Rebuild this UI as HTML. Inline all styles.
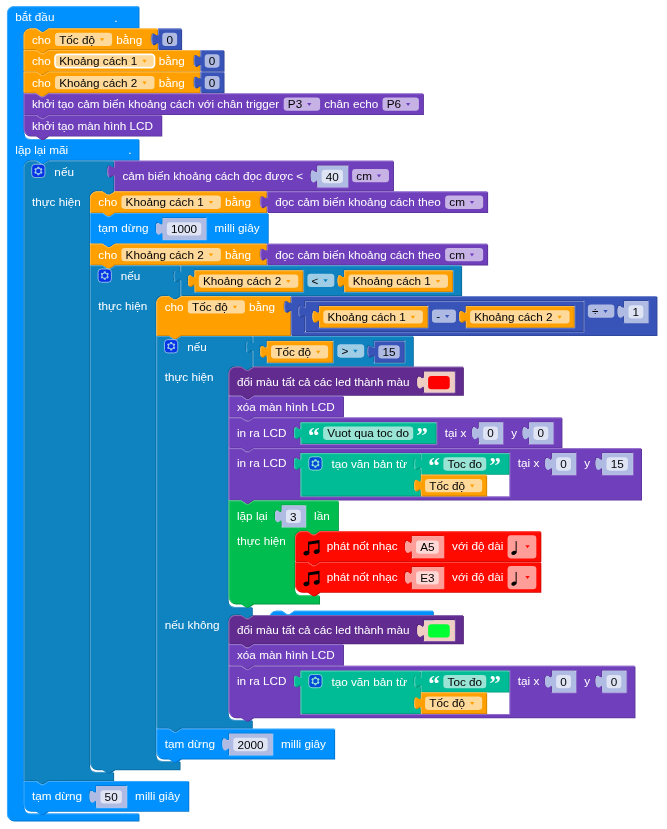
<!DOCTYPE html><html><head><meta charset="utf-8"><title>Blocks</title><style>html,body{margin:0;padding:0;background:#fff}svg{display:block}text{font-family:"Liberation Sans",Arial,sans-serif;font-size:14.12px}.w{fill:#fff}.k{fill:#000}.e{fill:#fff;fill-opacity:.6}</style></head><body><svg width="667" height="829" viewBox="0 0 667 829"><g transform="translate(7,6.3) scale(0.831)"><g transform="translate(315.88,727.44)"><path d="m 0,8 A 8,8 0 0,1 8,0 H 15 l 6,4 3,0 6,-4 H 196.75 v 14 H 0 z" fill="#0074cc" transform="translate(1,1)"/><path d="m 0,8 A 8,8 0 0,1 8,0 H 15 l 6,4 3,0 6,-4 H 196.75 v 14 H 0 z" fill="#0091ff"/><path d="m 0.5,7.5 A 7.5,7.5 0 0,1 8,0.5 H 15 l 6,4 3,0 6,-4 H 196.25" fill="none" stroke="#4cb2ff" stroke-width="1"/></g><g transform="translate(0,0)"><path d="m 0,8 A 8,8 0 0,1 8,0 H 158.4 v 25.8 H 50 l -6,4 -3,0 -6,-4 h -7 a 8,8 0 0,0 -8,8 v 118 a 8,8 0 0,0 8,8 H 158.4 v 25 H 50 l -6,4 -3,0 -6,-4 h -7 a 8,8 0 0,0 -8,8 v 770.5 a 8,8 0 0,0 8,8 H 158.4 v 8.6 H 8 a 8,8 0 0,1 -8,-8 z " fill="#0074cc" transform="translate(1,1)"/><path d="m 0,8 A 8,8 0 0,1 8,0 H 158.4 v 25.8 H 50 l -6,4 -3,0 -6,-4 h -7 a 8,8 0 0,0 -8,8 v 118 a 8,8 0 0,0 8,8 H 158.4 v 25 H 50 l -6,4 -3,0 -6,-4 h -7 a 8,8 0 0,0 -8,8 v 770.5 a 8,8 0 0,0 8,8 H 158.4 v 8.6 H 8 a 8,8 0 0,1 -8,-8 z " fill="#0091ff"/><path d="m 0.5,7.5 A 7.5,7.5 0 0,1 8,0.5 H 157.9 M 157.9,0.5 M 157.9,26.3 M 21.99,157.81 a 8.5,8.5 0 0,0 6.01,2.49 H 157.9 M 157.9,160.3 M 157.9,185.3 M 21.99,969.31 a 8.5,8.5 0 0,0 6.01,2.49 H 157.9 M 2.7,977.2 A 7.5,7.5 0 0,1 0.5,971.9 V 8 " fill="none" stroke="#4cb2ff" stroke-width="1" stroke-linecap="round"/><g transform="translate(10,5)"><text class="w" y="13">bắt đầu</text></g><g transform="translate(10,164.8)"><text class="w" y="13">lặp lại mãi</text></g><g transform="translate(20,26.8)"><path d="m 0,8 A 8,8 0 0,1 8,0 H 15 l 6,4 3,0 6,-4 H 160.87 v 5 c 0,10 -8,-8 -8,7.5 s 8,-2.5 8,7.5 v 5 H 29.5 l -6,4 -3,0 -6,-4 H 0 z " fill="#cc8000" transform="translate(1,1)"/><path d="m 0,8 A 8,8 0 0,1 8,0 H 15 l 6,4 3,0 6,-4 H 160.87 v 5 c 0,10 -8,-8 -8,7.5 s 8,-2.5 8,7.5 v 5 H 29.5 l -6,4 -3,0 -6,-4 H 0 z " fill="#ffa000"/><path d="m 0.5,7.5 A 7.5,7.5 0 0,1 8,0.5 H 15 l 6,4 3,0 6,-4 H 160.37 M 160.37,0.5 M 155.87,19.3 l 3.68,-2.1 M 0.5,24.5 V 8 " fill="none" stroke="#ffbc4c" stroke-width="1" stroke-linecap="round"/><g transform="translate(10,5)"><text class="w" y="13">cho</text></g><g transform="translate(42.77,5)"><rect class="e" x="-5" y="0" width="68.69" height="16" rx="4" ry="4"/><text class="k" y="13">Tốc độ</text><path d="M49.09,6.6 h5.2 l-2.6,3.6 z" fill="#ffa000"/></g><g transform="translate(111.46,5)"><text class="w" y="13">bằng</text></g><g transform="translate(161.87,0)"><path d="m 0,0 H 27.85 v 25 H 0 V 20 c 0,-10 -8,8 -8,-7.5 s 8,2.5 8,-7.5 z " fill="#2d4393" transform="translate(1,1)"/><path d="m 0,0 H 27.85 v 25 H 0 V 20 c 0,-10 -8,8 -8,-7.5 s 8,2.5 8,-7.5 z " fill="#3854b8"/><path d="m 0.5,0.5 H 27.35 M 27.35,0.5 M 0.5,24.5 V 18.5 m -7.36,-0.5 q -1.52,-5.5 0,-11 m 7.36,1 V 0.5 H 1 " fill="none" stroke="#7487cd" stroke-width="1" stroke-linecap="round"/><g transform="translate(10,5)"><rect class="e" x="-5" y="0" width="17.85" height="16" rx="4" ry="4"/><text class="k" y="13">0</text></g></g><g transform="translate(0,26)"><path d="m 0,0 H 15 l 6,4 3,0 6,-4 H 211.91 v 5 c 0,10 -8,-8 -8,7.5 s 8,-2.5 8,7.5 v 5 H 29.5 l -6,4 -3,0 -6,-4 H 0 z " fill="#cc8000" transform="translate(1,1)"/><path d="m 0,0 H 15 l 6,4 3,0 6,-4 H 211.91 v 5 c 0,10 -8,-8 -8,7.5 s 8,-2.5 8,7.5 v 5 H 29.5 l -6,4 -3,0 -6,-4 H 0 z " fill="#ffa000"/><path d="m 0.5,0.5 H 15 l 6,4 3,0 6,-4 H 211.41 M 211.41,0.5 M 206.91,19.3 l 3.68,-2.1 M 0.5,24.5 V 0.5 " fill="none" stroke="#ffbc4c" stroke-width="1" stroke-linecap="round"/><g transform="translate(10,5)"><text class="w" y="13">cho</text></g><g transform="translate(42.77,5)"><rect class="e" x="-5" y="0" width="119.73" height="16" rx="4" ry="4" stroke="#fff" stroke-width="2"/><text class="k" y="13">Khoảng cách 1</text><path d="M100.13,6.6 h5.2 l-2.6,3.6 z" fill="#ffa000"/></g><g transform="translate(162.5,5)"><text class="w" y="13">bằng</text></g><g transform="translate(212.91,0)"><path d="m 0,0 H 27.85 v 25 H 0 V 20 c 0,-10 -8,8 -8,-7.5 s 8,2.5 8,-7.5 z " fill="#2d4393" transform="translate(1,1)"/><path d="m 0,0 H 27.85 v 25 H 0 V 20 c 0,-10 -8,8 -8,-7.5 s 8,2.5 8,-7.5 z " fill="#3854b8"/><path d="m 0.5,0.5 H 27.35 M 27.35,0.5 M 0.5,24.5 V 18.5 m -7.36,-0.5 q -1.52,-5.5 0,-11 m 7.36,1 V 0.5 H 1 " fill="none" stroke="#7487cd" stroke-width="1" stroke-linecap="round"/><g transform="translate(10,5)"><rect class="e" x="-5" y="0" width="17.85" height="16" rx="4" ry="4"/><text class="k" y="13">0</text></g></g><g transform="translate(0,26)"><path d="m 0,0 H 15 l 6,4 3,0 6,-4 H 211.91 v 5 c 0,10 -8,-8 -8,7.5 s 8,-2.5 8,7.5 v 5 H 29.5 l -6,4 -3,0 -6,-4 H 0 z " fill="#cc8000" transform="translate(1,1)"/><path d="m 0,0 H 15 l 6,4 3,0 6,-4 H 211.91 v 5 c 0,10 -8,-8 -8,7.5 s 8,-2.5 8,7.5 v 5 H 29.5 l -6,4 -3,0 -6,-4 H 0 z " fill="#ffa000"/><path d="m 0.5,0.5 H 15 l 6,4 3,0 6,-4 H 211.41 M 211.41,0.5 M 206.91,19.3 l 3.68,-2.1 M 0.5,24.5 V 0.5 " fill="none" stroke="#ffbc4c" stroke-width="1" stroke-linecap="round"/><g transform="translate(10,5)"><text class="w" y="13">cho</text></g><g transform="translate(42.77,5)"><rect class="e" x="-5" y="0" width="119.73" height="16" rx="4" ry="4"/><text class="k" y="13">Khoảng cách 2</text><path d="M100.13,6.6 h5.2 l-2.6,3.6 z" fill="#ffa000"/></g><g transform="translate(162.5,5)"><text class="w" y="13">bằng</text></g><g transform="translate(212.91,0)"><path d="m 0,0 H 27.85 v 25 H 0 V 20 c 0,-10 -8,8 -8,-7.5 s 8,2.5 8,-7.5 z " fill="#2d4393" transform="translate(1,1)"/><path d="m 0,0 H 27.85 v 25 H 0 V 20 c 0,-10 -8,8 -8,-7.5 s 8,2.5 8,-7.5 z " fill="#3854b8"/><path d="m 0.5,0.5 H 27.35 M 27.35,0.5 M 0.5,24.5 V 18.5 m -7.36,-0.5 q -1.52,-5.5 0,-11 m 7.36,1 V 0.5 H 1 " fill="none" stroke="#7487cd" stroke-width="1" stroke-linecap="round"/><g transform="translate(10,5)"><rect class="e" x="-5" y="0" width="17.85" height="16" rx="4" ry="4"/><text class="k" y="13">0</text></g></g><g transform="translate(0,26)"><path d="m 0,0 H 15 l 6,4 3,0 6,-4 H 480.7 v 25 H 29.5 l -6,4 -3,0 -6,-4 H 0 z " fill="#5a3396" transform="translate(1,1)"/><path d="m 0,0 H 15 l 6,4 3,0 6,-4 H 480.7 v 25 H 29.5 l -6,4 -3,0 -6,-4 H 0 z " fill="#7040bc"/><path d="m 0.5,0.5 H 15 l 6,4 3,0 6,-4 H 480.2 M 480.2,0.5 M 0.5,24.5 V 0.5 " fill="none" stroke="#9b79d0" stroke-width="1" stroke-linecap="round"/><g transform="translate(10,5)"><text class="w" y="13">khởi tạo cảm biến khoảng cách với chân trigger</text></g><g transform="translate(317.95,5)"><rect class="e" x="-5" y="0" width="43.79" height="16" rx="4" ry="4"/><text class="k" y="13">P3</text><path d="M23.19,6.6 h5.2 l-2.6,3.6 z" fill="#7040bc"/></g><g transform="translate(361.74,5)"><text class="w" y="13">chân echo</text></g><g transform="translate(436.9,5)"><rect class="e" x="-5" y="0" width="43.79" height="16" rx="4" ry="4"/><text class="k" y="13">P6</text><path d="M23.19,6.6 h5.2 l-2.6,3.6 z" fill="#7040bc"/></g><g transform="translate(0,26)"><path d="m 0,0 H 15 l 6,4 3,0 6,-4 H 165.83 v 25 H 29.5 l -6,4 -3,0 -6,-4 H 8 a 8,8 0 0,1 -8,-8 z " fill="#5a3396" transform="translate(1,1)"/><path d="m 0,0 H 15 l 6,4 3,0 6,-4 H 165.83 v 25 H 29.5 l -6,4 -3,0 -6,-4 H 8 a 8,8 0 0,1 -8,-8 z " fill="#7040bc"/><path d="m 0.5,0.5 H 15 l 6,4 3,0 6,-4 H 165.33 M 165.33,0.5 M 2.7,22.3 A 7.5,7.5 0 0,1 0.5,17 V 0.5 " fill="none" stroke="#9b79d0" stroke-width="1" stroke-linecap="round"/><g transform="translate(10,5)"><text class="w" y="13">khởi tạo màn hình LCD</text></g></g></g></g></g></g><g transform="translate(20,185.8)"><path d="m 0,8 A 8,8 0 0,1 8,0 H 15 l 6,4 3,0 6,-4 H 107.91 v 5 c 0,10 -8,-8 -8,7.5 s 8,-2.5 8,7.5 v 16 H 108.91 l -6,4 -3,0 -6,-4 h -7 a 8,8 0 0,0 -8,8 v 683.5 a 8,8 0 0,0 8,8 H 107.91 v 10 H 29.5 l -6,4 -3,0 -6,-4 H 0 z " fill="#0c689a" transform="translate(1,1)"/><path d="m 0,8 A 8,8 0 0,1 8,0 H 15 l 6,4 3,0 6,-4 H 107.91 v 5 c 0,10 -8,-8 -8,7.5 s 8,-2.5 8,7.5 v 16 H 108.91 l -6,4 -3,0 -6,-4 h -7 a 8,8 0 0,0 -8,8 v 683.5 a 8,8 0 0,0 8,8 H 107.91 v 10 H 29.5 l -6,4 -3,0 -6,-4 H 0 z " fill="#0f82c0"/><path d="m 0.5,7.5 A 7.5,7.5 0 0,1 8,0.5 H 15 l 6,4 3,0 6,-4 H 107.41 M 107.41,0.5 M 102.91,19.3 l 3.68,-2.1 M 107.41,36.5 M 80.9,733.51 a 8.5,8.5 0 0,0 6.01,2.49 H 107.41 M 0.5,745 V 8 " fill="none" stroke="#57a8d3" stroke-width="1" stroke-linecap="round"/><g transform="translate(9.2,3.8)" opacity="0.6"><rect x="0.5" y="0.5" width="16" height="16" rx="4" ry="4" fill="#00f" stroke="#fff" stroke-width="1"/><path fill="#fff" d="m4.203,7.296 0,1.368 -0.92,0.677 -0.11,0.41 0.9,1.559 0.41,0.11 1.043,-0.457 1.187,0.683 0.127,1.134 0.3,0.3 1.8,0 0.3,-0.299 0.127,-1.138 1.185,-0.682 1.046,0.458 0.409,-0.11 0.9,-1.559 -0.11,-0.41 -0.92,-0.677 0,-1.366 0.92,-0.677 0.11,-0.41 -0.9,-1.559 -0.409,-0.109 -1.046,0.458 -1.185,-0.682 -0.127,-1.138 -0.3,-0.299 -1.8,0 -0.3,0.3 -0.126,1.135 -1.187,0.682 -1.043,-0.457 -0.41,0.11 -0.899,1.559 0.108,0.409z" transform="translate(0.5,0.5)"/><circle cx="8.5" cy="8.5" r="2.7" fill="#00f"/></g><g transform="translate(37,5)"><text class="w" y="13">nếu</text></g><g transform="translate(10,41)"><text class="w" y="13">thực hiện</text></g><g transform="translate(108.91,0)"><path d="m 0,0 H 20 H 335.75 v 36 H 0 V 20 c 0,-10 -8,8 -8,-7.5 s 8,2.5 8,-7.5 z M 281.4,5 h -37.71 v 5 c 0,10 -8,-8 -8,7.5 s 8,-2.5 8,7.5 v 7 h 37.71 z" fill="#5a3396" transform="translate(1,1)"/><path d="m 0,0 H 20 H 335.75 v 36 H 0 V 20 c 0,-10 -8,8 -8,-7.5 s 8,2.5 8,-7.5 z M 281.4,5 h -37.71 v 5 c 0,10 -8,-8 -8,7.5 s 8,-2.5 8,7.5 v 7 h 37.71 z" fill="#7040bc"/><path d="m 0.5,0.5 H 19.5 M 19.5,0.5 H 335.25 M 0.5,35.5 V 18.5 m -7.36,-0.5 q -1.52,-5.5 0,-11 m 7.36,1 V 0.5 H 1 M 281.9,5.5 v 27 h -37.71 M 238.6,24.3 l 3.68,-2.1" fill="none" stroke="#9b79d0" stroke-width="1" stroke-linecap="round"/><g transform="translate(10,10)"><text class="w" y="13">cảm biến khoảng cách đọc được &lt;</text></g><g transform="translate(291.4,10)"><rect class="e" x="-5" y="0" width="44.35" height="16" rx="4" ry="4"/><text class="k" y="13">cm</text><path d="M24.75,6.6 h5.2 l-2.6,3.6 z" fill="#7040bc"/></g><g transform="translate(244.7,6)"><path d="m 0,0 H 35.71 v 25 H 0 V 20 c 0,-10 -8,8 -8,-7.5 s 8,2.5 8,-7.5 z " fill="#afbbe3" transform="translate(1,1)"/><path d="m 0,0 H 35.71 v 25 H 0 V 20 c 0,-10 -8,8 -8,-7.5 s 8,2.5 8,-7.5 z " fill="#afbbe3"/><g transform="translate(10,5)"><rect class="e" x="-5" y="0" width="25.71" height="16" rx="4" ry="4"/><text class="k" y="13">40</text></g></g></g><g transform="translate(79.91,37)"><path d="m 0,8 A 8,8 0 0,1 8,0 H 15 l 6,4 3,0 6,-4 H 211.91 v 5 c 0,10 -8,-8 -8,7.5 s 8,-2.5 8,7.5 v 5 H 29.5 l -6,4 -3,0 -6,-4 H 0 z " fill="#cc8000" transform="translate(1,1)"/><path d="m 0,8 A 8,8 0 0,1 8,0 H 15 l 6,4 3,0 6,-4 H 211.91 v 5 c 0,10 -8,-8 -8,7.5 s 8,-2.5 8,7.5 v 5 H 29.5 l -6,4 -3,0 -6,-4 H 0 z " fill="#ffa000"/><path d="m 0.5,7.5 A 7.5,7.5 0 0,1 8,0.5 H 15 l 6,4 3,0 6,-4 H 211.41 M 211.41,0.5 M 206.91,19.3 l 3.68,-2.1 M 0.5,24.5 V 8 " fill="none" stroke="#ffbc4c" stroke-width="1" stroke-linecap="round"/><g transform="translate(10,5)"><text class="w" y="13">cho</text></g><g transform="translate(42.77,5)"><rect class="e" x="-5" y="0" width="119.73" height="16" rx="4" ry="4"/><text class="k" y="13">Khoảng cách 1</text><path d="M100.13,6.6 h5.2 l-2.6,3.6 z" fill="#ffa000"/></g><g transform="translate(162.5,5)"><text class="w" y="13">bằng</text></g><g transform="translate(212.91,0)"><path d="m 0,0 H 265.13 v 25 H 0 V 20 c 0,-10 -8,8 -8,-7.5 s 8,2.5 8,-7.5 z " fill="#5a3396" transform="translate(1,1)"/><path d="m 0,0 H 265.13 v 25 H 0 V 20 c 0,-10 -8,8 -8,-7.5 s 8,2.5 8,-7.5 z " fill="#7040bc"/><path d="m 0.5,0.5 H 264.63 M 264.63,0.5 M 0.5,24.5 V 18.5 m -7.36,-0.5 q -1.52,-5.5 0,-11 m 7.36,1 V 0.5 H 1 " fill="none" stroke="#9b79d0" stroke-width="1" stroke-linecap="round"/><g transform="translate(10,5)"><text class="w" y="13">đọc cảm biến khoảng cách theo</text></g><g transform="translate(219.39,5)"><rect class="e" x="-5" y="0" width="45.75" height="16" rx="4" ry="4"/><text class="k" y="13">cm</text><path d="M24.75,6.6 h5.2 l-2.6,3.6 z" fill="#7040bc"/></g></g><g transform="translate(0,26)"><path d="m 0,0 H 15 l 6,4 3,0 6,-4 H 40 H 214.02 v 36 H 29.5 l -6,4 -3,0 -6,-4 H 0 z M 139.89,5 h -53.41 v 5 c 0,10 -8,-8 -8,7.5 s 8,-2.5 8,7.5 v 7 h 53.41 z" fill="#0074cc" transform="translate(1,1)"/><path d="m 0,0 H 15 l 6,4 3,0 6,-4 H 40 H 214.02 v 36 H 29.5 l -6,4 -3,0 -6,-4 H 0 z M 139.89,5 h -53.41 v 5 c 0,10 -8,-8 -8,7.5 s 8,-2.5 8,7.5 v 7 h 53.41 z" fill="#0091ff"/><path d="m 0.5,0.5 H 15 l 6,4 3,0 6,-4 H 39.5 M 39.5,0.5 H 213.52 M 0.5,35.5 V 0.5 M 140.39,5.5 v 27 h -53.41 M 81.37,24.3 l 3.68,-2.1" fill="none" stroke="#4cb2ff" stroke-width="1" stroke-linecap="round"/><g transform="translate(10,10)"><text class="w" y="13">tạm dừng</text></g><g transform="translate(149.89,10)"><text class="w" y="13">milli giây</text></g><g transform="translate(87.47,6)"><path d="m 0,0 H 51.41 v 25 H 0 V 20 c 0,-10 -8,8 -8,-7.5 s 8,2.5 8,-7.5 z " fill="#afbbe3" transform="translate(1,1)"/><path d="m 0,0 H 51.41 v 25 H 0 V 20 c 0,-10 -8,8 -8,-7.5 s 8,2.5 8,-7.5 z " fill="#afbbe3"/><g transform="translate(10,5)"><rect class="e" x="-5" y="0" width="41.41" height="16" rx="4" ry="4"/><text class="k" y="13">1000</text></g></g><g transform="translate(0,37)"><path d="m 0,0 H 15 l 6,4 3,0 6,-4 H 211.91 v 5 c 0,10 -8,-8 -8,7.5 s 8,-2.5 8,7.5 v 5 H 29.5 l -6,4 -3,0 -6,-4 H 0 z " fill="#cc8000" transform="translate(1,1)"/><path d="m 0,0 H 15 l 6,4 3,0 6,-4 H 211.91 v 5 c 0,10 -8,-8 -8,7.5 s 8,-2.5 8,7.5 v 5 H 29.5 l -6,4 -3,0 -6,-4 H 0 z " fill="#ffa000"/><path d="m 0.5,0.5 H 15 l 6,4 3,0 6,-4 H 211.41 M 211.41,0.5 M 206.91,19.3 l 3.68,-2.1 M 0.5,24.5 V 0.5 " fill="none" stroke="#ffbc4c" stroke-width="1" stroke-linecap="round"/><g transform="translate(10,5)"><text class="w" y="13">cho</text></g><g transform="translate(42.77,5)"><rect class="e" x="-5" y="0" width="119.73" height="16" rx="4" ry="4"/><text class="k" y="13">Khoảng cách 2</text><path d="M100.13,6.6 h5.2 l-2.6,3.6 z" fill="#ffa000"/></g><g transform="translate(162.5,5)"><text class="w" y="13">bằng</text></g><g transform="translate(212.91,0)"><path d="m 0,0 H 265.13 v 25 H 0 V 20 c 0,-10 -8,8 -8,-7.5 s 8,2.5 8,-7.5 z " fill="#5a3396" transform="translate(1,1)"/><path d="m 0,0 H 265.13 v 25 H 0 V 20 c 0,-10 -8,8 -8,-7.5 s 8,2.5 8,-7.5 z " fill="#7040bc"/><path d="m 0.5,0.5 H 264.63 M 264.63,0.5 M 0.5,24.5 V 18.5 m -7.36,-0.5 q -1.52,-5.5 0,-11 m 7.36,1 V 0.5 H 1 " fill="none" stroke="#9b79d0" stroke-width="1" stroke-linecap="round"/><g transform="translate(10,5)"><text class="w" y="13">đọc cảm biến khoảng cách theo</text></g><g transform="translate(219.39,5)"><rect class="e" x="-5" y="0" width="45.75" height="16" rx="4" ry="4"/><text class="k" y="13">cm</text><path d="M24.75,6.6 h5.2 l-2.6,3.6 z" fill="#7040bc"/></g></g><g transform="translate(0,26)"><path d="m 0,0 H 15 l 6,4 3,0 6,-4 H 107.91 v 5 c 0,10 -8,-8 -8,7.5 s 8,-2.5 8,7.5 v 16 H 108.91 l -6,4 -3,0 -6,-4 h -7 a 8,8 0 0,0 -8,8 v 544.5 a 8,8 0 0,0 8,8 H 107.91 v 10 H 29.5 l -6,4 -3,0 -6,-4 H 8 a 8,8 0 0,1 -8,-8 z " fill="#0c689a" transform="translate(1,1)"/><path d="m 0,0 H 15 l 6,4 3,0 6,-4 H 107.91 v 5 c 0,10 -8,-8 -8,7.5 s 8,-2.5 8,7.5 v 16 H 108.91 l -6,4 -3,0 -6,-4 h -7 a 8,8 0 0,0 -8,8 v 544.5 a 8,8 0 0,0 8,8 H 107.91 v 10 H 29.5 l -6,4 -3,0 -6,-4 H 8 a 8,8 0 0,1 -8,-8 z " fill="#0f82c0"/><path d="m 0.5,0.5 H 15 l 6,4 3,0 6,-4 H 107.41 M 107.41,0.5 M 102.91,19.3 l 3.68,-2.1 M 107.41,36.5 M 80.9,594.51 a 8.5,8.5 0 0,0 6.01,2.49 H 107.41 M 2.7,603.8 A 7.5,7.5 0 0,1 0.5,598.5 V 0.5 " fill="none" stroke="#57a8d3" stroke-width="1" stroke-linecap="round"/><g transform="translate(9.2,3.8)" opacity="0.6"><rect x="0.5" y="0.5" width="16" height="16" rx="4" ry="4" fill="#00f" stroke="#fff" stroke-width="1"/><path fill="#fff" d="m4.203,7.296 0,1.368 -0.92,0.677 -0.11,0.41 0.9,1.559 0.41,0.11 1.043,-0.457 1.187,0.683 0.127,1.134 0.3,0.3 1.8,0 0.3,-0.299 0.127,-1.138 1.185,-0.682 1.046,0.458 0.409,-0.11 0.9,-1.559 -0.11,-0.41 -0.92,-0.677 0,-1.366 0.92,-0.677 0.11,-0.41 -0.9,-1.559 -0.409,-0.109 -1.046,0.458 -1.185,-0.682 -0.127,-1.138 -0.3,-0.299 -1.8,0 -0.3,0.3 -0.126,1.135 -1.187,0.682 -1.043,-0.457 -0.41,0.11 -0.899,1.559 0.108,0.409z" transform="translate(0.5,0.5)"/><circle cx="8.5" cy="8.5" r="2.7" fill="#00f"/></g><g transform="translate(37,5)"><text class="w" y="13">nếu</text></g><g transform="translate(10,41)"><text class="w" y="13">thực hiện</text></g><g transform="translate(108.91,0)"><path d="m 0,0 H 20 H 337.83 v 36 H 0 V 20 c 0,-10 -8,8 -8,-7.5 s 8,2.5 8,-7.5 z M 147.73,5 h -131.73 v 5 c 0,10 -8,-8 -8,7.5 s 8,-2.5 8,7.5 v 7 h 131.73 z M 327.83,5 h -131.73 v 5 c 0,10 -8,-8 -8,7.5 s 8,-2.5 8,7.5 v 7 h 131.73 z" fill="#0c689a" transform="translate(1,1)"/><path d="m 0,0 H 20 H 337.83 v 36 H 0 V 20 c 0,-10 -8,8 -8,-7.5 s 8,2.5 8,-7.5 z M 147.73,5 h -131.73 v 5 c 0,10 -8,-8 -8,7.5 s 8,-2.5 8,7.5 v 7 h 131.73 z M 327.83,5 h -131.73 v 5 c 0,10 -8,-8 -8,7.5 s 8,-2.5 8,7.5 v 7 h 131.73 z" fill="#0f82c0"/><path d="m 0.5,0.5 H 19.5 M 19.5,0.5 H 337.33 M 0.5,35.5 V 18.5 m -7.36,-0.5 q -1.52,-5.5 0,-11 m 7.36,1 V 0.5 H 1 M 148.23,5.5 v 27 h -131.73 M 10.9,24.3 l 3.68,-2.1 M 328.33,5.5 v 27 h -131.73 M 191,24.3 l 3.68,-2.1" fill="none" stroke="#57a8d3" stroke-width="1" stroke-linecap="round"/><g transform="translate(157.73,10)"><rect class="e" x="-5" y="0" width="32.37" height="16" rx="4" ry="4"/><text class="k" y="13">&lt;</text><path d="M14.17,6.6 h5.2 l-2.6,3.6 z" fill="#0f82c0"/></g><g transform="translate(17,6)"><path d="m 0,0 H 129.73 v 25 H 0 V 20 c 0,-10 -8,8 -8,-7.5 s 8,2.5 8,-7.5 z " fill="#cc8000" transform="translate(1,1)"/><path d="m 0,0 H 129.73 v 25 H 0 V 20 c 0,-10 -8,8 -8,-7.5 s 8,2.5 8,-7.5 z " fill="#ffa000"/><path d="m 0.5,0.5 H 129.23 M 129.23,0.5 M 0.5,24.5 V 18.5 m -7.36,-0.5 q -1.52,-5.5 0,-11 m 7.36,1 V 0.5 H 1 " fill="none" stroke="#ffbc4c" stroke-width="1" stroke-linecap="round"/><g transform="translate(10,5)"><rect class="e" x="-5" y="0" width="119.73" height="16" rx="4" ry="4"/><text class="k" y="13">Khoảng cách 2</text><path d="M100.13,6.6 h5.2 l-2.6,3.6 z" fill="#ffa000"/></g></g><g transform="translate(197.1,6)"><path d="m 0,0 H 129.73 v 25 H 0 V 20 c 0,-10 -8,8 -8,-7.5 s 8,2.5 8,-7.5 z " fill="#cc8000" transform="translate(1,1)"/><path d="m 0,0 H 129.73 v 25 H 0 V 20 c 0,-10 -8,8 -8,-7.5 s 8,2.5 8,-7.5 z " fill="#ffa000"/><path d="m 0.5,0.5 H 129.23 M 129.23,0.5 M 0.5,24.5 V 18.5 m -7.36,-0.5 q -1.52,-5.5 0,-11 m 7.36,1 V 0.5 H 1 " fill="none" stroke="#ffbc4c" stroke-width="1" stroke-linecap="round"/><g transform="translate(10,5)"><rect class="e" x="-5" y="0" width="119.73" height="16" rx="4" ry="4"/><text class="k" y="13">Khoảng cách 1</text><path d="M100.13,6.6 h5.2 l-2.6,3.6 z" fill="#ffa000"/></g></g></g><g transform="translate(79.91,37)"><path d="m 0,8 A 8,8 0 0,1 8,0 H 15 l 6,4 3,0 6,-4 H 160.87 v 5 c 0,10 -8,-8 -8,7.5 s 8,-2.5 8,7.5 v 27 H 29.5 l -6,4 -3,0 -6,-4 H 0 z " fill="#cc8000" transform="translate(1,1)"/><path d="m 0,8 A 8,8 0 0,1 8,0 H 15 l 6,4 3,0 6,-4 H 160.87 v 5 c 0,10 -8,-8 -8,7.5 s 8,-2.5 8,7.5 v 27 H 29.5 l -6,4 -3,0 -6,-4 H 0 z " fill="#ffa000"/><path d="m 0.5,7.5 A 7.5,7.5 0 0,1 8,0.5 H 15 l 6,4 3,0 6,-4 H 160.37 M 160.37,0.5 M 155.87,19.3 l 3.68,-2.1 M 0.5,46.5 V 8 " fill="none" stroke="#ffbc4c" stroke-width="1" stroke-linecap="round"/><g transform="translate(10,5)"><text class="w" y="13">cho</text></g><g transform="translate(42.77,5)"><rect class="e" x="-5" y="0" width="68.69" height="16" rx="4" ry="4"/><text class="k" y="13">Tốc độ</text><path d="M49.09,6.6 h5.2 l-2.6,3.6 z" fill="#ffa000"/></g><g transform="translate(111.46,5)"><text class="w" y="13">bằng</text></g><g transform="translate(161.87,0)"><path d="m 0,0 H 20 H 440.01 v 47 H 0 V 20 c 0,-10 -8,8 -8,-7.5 s 8,2.5 8,-7.5 z M 352.29,5 h -336.29 v 5 c 0,10 -8,-8 -8,7.5 s 8,-2.5 8,7.5 v 18 h 336.29 z M 430.01,5 h -29.85 v 5 c 0,10 -8,-8 -8,7.5 s 8,-2.5 8,7.5 v 7 h 29.85 z" fill="#2d4393" transform="translate(1,1)"/><path d="m 0,0 H 20 H 440.01 v 47 H 0 V 20 c 0,-10 -8,8 -8,-7.5 s 8,2.5 8,-7.5 z M 352.29,5 h -336.29 v 5 c 0,10 -8,-8 -8,7.5 s 8,-2.5 8,7.5 v 18 h 336.29 z M 430.01,5 h -29.85 v 5 c 0,10 -8,-8 -8,7.5 s 8,-2.5 8,7.5 v 7 h 29.85 z" fill="#3854b8"/><path d="m 0.5,0.5 H 19.5 M 19.5,0.5 H 439.51 M 0.5,46.5 V 18.5 m -7.36,-0.5 q -1.52,-5.5 0,-11 m 7.36,1 V 0.5 H 1 M 352.79,5.5 v 38 h -336.29 M 10.9,24.3 l 3.68,-2.1 M 430.51,5.5 v 27 h -29.85 M 395.06,24.3 l 3.68,-2.1" fill="none" stroke="#7487cd" stroke-width="1" stroke-linecap="round"/><g transform="translate(362.29,10)"><rect class="e" x="-5" y="0" width="31.87" height="16" rx="4" ry="4"/><text class="k" y="13">÷</text><path d="M13.67,6.6 h5.2 l-2.6,3.6 z" fill="#3854b8"/></g><g transform="translate(17,6)"><path d="m 0,0 H 20 H 334.29 v 36 H 0 V 20 c 0,-10 -8,8 -8,-7.5 s 8,2.5 8,-7.5 z M 147.73,5 h -131.73 v 5 c 0,10 -8,-8 -8,7.5 s 8,-2.5 8,7.5 v 7 h 131.73 z M 324.29,5 h -131.73 v 5 c 0,10 -8,-8 -8,7.5 s 8,-2.5 8,7.5 v 7 h 131.73 z" fill="#2d4393" transform="translate(1,1)"/><path d="m 0,0 H 20 H 334.29 v 36 H 0 V 20 c 0,-10 -8,8 -8,-7.5 s 8,2.5 8,-7.5 z M 147.73,5 h -131.73 v 5 c 0,10 -8,-8 -8,7.5 s 8,-2.5 8,7.5 v 7 h 131.73 z M 324.29,5 h -131.73 v 5 c 0,10 -8,-8 -8,7.5 s 8,-2.5 8,7.5 v 7 h 131.73 z" fill="#3854b8"/><path d="m 0.5,0.5 H 19.5 M 19.5,0.5 H 333.79 M 0.5,35.5 V 18.5 m -7.36,-0.5 q -1.52,-5.5 0,-11 m 7.36,1 V 0.5 H 1 M 148.23,5.5 v 27 h -131.73 M 10.9,24.3 l 3.68,-2.1 M 324.79,5.5 v 27 h -131.73 M 187.46,24.3 l 3.68,-2.1" fill="none" stroke="#7487cd" stroke-width="1" stroke-linecap="round"/><g transform="translate(157.73,10)"><rect class="e" x="-5" y="0" width="28.83" height="16" rx="4" ry="4"/><text class="k" y="13">-</text><path d="M10.63,6.6 h5.2 l-2.6,3.6 z" fill="#3854b8"/></g><g transform="translate(17,6)"><path d="m 0,0 H 129.73 v 25 H 0 V 20 c 0,-10 -8,8 -8,-7.5 s 8,2.5 8,-7.5 z " fill="#cc8000" transform="translate(1,1)"/><path d="m 0,0 H 129.73 v 25 H 0 V 20 c 0,-10 -8,8 -8,-7.5 s 8,2.5 8,-7.5 z " fill="#ffa000"/><path d="m 0.5,0.5 H 129.23 M 129.23,0.5 M 0.5,24.5 V 18.5 m -7.36,-0.5 q -1.52,-5.5 0,-11 m 7.36,1 V 0.5 H 1 " fill="none" stroke="#ffbc4c" stroke-width="1" stroke-linecap="round"/><g transform="translate(10,5)"><rect class="e" x="-5" y="0" width="119.73" height="16" rx="4" ry="4"/><text class="k" y="13">Khoảng cách 1</text><path d="M100.13,6.6 h5.2 l-2.6,3.6 z" fill="#ffa000"/></g></g><g transform="translate(193.56,6)"><path d="m 0,0 H 129.73 v 25 H 0 V 20 c 0,-10 -8,8 -8,-7.5 s 8,2.5 8,-7.5 z " fill="#cc8000" transform="translate(1,1)"/><path d="m 0,0 H 129.73 v 25 H 0 V 20 c 0,-10 -8,8 -8,-7.5 s 8,2.5 8,-7.5 z " fill="#ffa000"/><path d="m 0.5,0.5 H 129.23 M 129.23,0.5 M 0.5,24.5 V 18.5 m -7.36,-0.5 q -1.52,-5.5 0,-11 m 7.36,1 V 0.5 H 1 " fill="none" stroke="#ffbc4c" stroke-width="1" stroke-linecap="round"/><g transform="translate(10,5)"><rect class="e" x="-5" y="0" width="119.73" height="16" rx="4" ry="4"/><text class="k" y="13">Khoảng cách 2</text><path d="M100.13,6.6 h5.2 l-2.6,3.6 z" fill="#ffa000"/></g></g></g><g transform="translate(401.16,6)"><path d="m 0,0 H 27.85 v 25 H 0 V 20 c 0,-10 -8,8 -8,-7.5 s 8,2.5 8,-7.5 z " fill="#afbbe3" transform="translate(1,1)"/><path d="m 0,0 H 27.85 v 25 H 0 V 20 c 0,-10 -8,8 -8,-7.5 s 8,2.5 8,-7.5 z " fill="#afbbe3"/><g transform="translate(10,5)"><rect class="e" x="-5" y="0" width="17.85" height="16" rx="4" ry="4"/><text class="k" y="13">1</text></g></g></g><g transform="translate(0,48)"><path d="m 0,0 H 15 l 6,4 3,0 6,-4 H 114.95 v 5 c 0,10 -8,-8 -8,7.5 s 8,-2.5 8,7.5 v 16 H 115.95 l -6,4 -3,0 -6,-4 h -7 a 8,8 0 0,0 -8,8 v 274 a 8,8 0 0,0 8,8 H 114.95 v 8.9 H 115.95 l -6,4 -3,0 -6,-4 h -7 a 8,8 0 0,0 -8,8 v 111 a 8,8 0 0,0 8,8 H 114.95 v 9.6 H 29.5 l -6,4 -3,0 -6,-4 H 0 z " fill="#0c689a" transform="translate(1,1)"/><path d="m 0,0 H 15 l 6,4 3,0 6,-4 H 114.95 v 5 c 0,10 -8,-8 -8,7.5 s 8,-2.5 8,7.5 v 16 H 115.95 l -6,4 -3,0 -6,-4 h -7 a 8,8 0 0,0 -8,8 v 274 a 8,8 0 0,0 8,8 H 114.95 v 8.9 H 115.95 l -6,4 -3,0 -6,-4 h -7 a 8,8 0 0,0 -8,8 v 111 a 8,8 0 0,0 8,8 H 114.95 v 9.6 H 29.5 l -6,4 -3,0 -6,-4 H 0 z " fill="#0f82c0"/><path d="m 0.5,0.5 H 15 l 6,4 3,0 6,-4 H 114.45 M 114.45,0.5 M 109.95,19.3 l 3.68,-2.1 M 114.45,36.5 M 87.94,324.01 a 8.5,8.5 0 0,0 6.01,2.49 H 114.45 M 114.45,335.4 M 87.94,459.91 a 8.5,8.5 0 0,0 6.01,2.49 H 114.45 M 0.5,471 V 0.5 " fill="none" stroke="#57a8d3" stroke-width="1" stroke-linecap="round"/><g transform="translate(9.2,3.8)" opacity="0.6"><rect x="0.5" y="0.5" width="16" height="16" rx="4" ry="4" fill="#00f" stroke="#fff" stroke-width="1"/><path fill="#fff" d="m4.203,7.296 0,1.368 -0.92,0.677 -0.11,0.41 0.9,1.559 0.41,0.11 1.043,-0.457 1.187,0.683 0.127,1.134 0.3,0.3 1.8,0 0.3,-0.299 0.127,-1.138 1.185,-0.682 1.046,0.458 0.409,-0.11 0.9,-1.559 -0.11,-0.41 -0.92,-0.677 0,-1.366 0.92,-0.677 0.11,-0.41 -0.9,-1.559 -0.409,-0.109 -1.046,0.458 -1.185,-0.682 -0.127,-1.138 -0.3,-0.299 -1.8,0 -0.3,0.3 -0.126,1.135 -1.187,0.682 -1.043,-0.457 -0.41,0.11 -0.899,1.559 0.108,0.409z" transform="translate(0.5,0.5)"/><circle cx="8.5" cy="8.5" r="2.7" fill="#00f"/></g><g transform="translate(37,5)"><text class="w" y="13">nếu</text></g><g transform="translate(10,41)"><text class="w" y="13">thực hiện</text></g><g transform="translate(10,339.9)"><text class="w" y="13">nếu không</text></g><g transform="translate(115.95,0)"><path d="m 0,0 H 20 H 192.77 v 36 H 0 V 20 c 0,-10 -8,8 -8,-7.5 s 8,2.5 8,-7.5 z M 96.69,5 h -80.69 v 5 c 0,10 -8,-8 -8,7.5 s 8,-2.5 8,7.5 v 7 h 80.69 z M 182.77,5 h -37.71 v 5 c 0,10 -8,-8 -8,7.5 s 8,-2.5 8,7.5 v 7 h 37.71 z" fill="#0c689a" transform="translate(1,1)"/><path d="m 0,0 H 20 H 192.77 v 36 H 0 V 20 c 0,-10 -8,8 -8,-7.5 s 8,2.5 8,-7.5 z M 96.69,5 h -80.69 v 5 c 0,10 -8,-8 -8,7.5 s 8,-2.5 8,7.5 v 7 h 80.69 z M 182.77,5 h -37.71 v 5 c 0,10 -8,-8 -8,7.5 s 8,-2.5 8,7.5 v 7 h 37.71 z" fill="#0f82c0"/><path d="m 0.5,0.5 H 19.5 M 19.5,0.5 H 192.27 M 0.5,35.5 V 18.5 m -7.36,-0.5 q -1.52,-5.5 0,-11 m 7.36,1 V 0.5 H 1 M 97.19,5.5 v 27 h -80.69 M 10.9,24.3 l 3.68,-2.1 M 183.27,5.5 v 27 h -37.71 M 139.96,24.3 l 3.68,-2.1" fill="none" stroke="#57a8d3" stroke-width="1" stroke-linecap="round"/><g transform="translate(106.69,10)"><rect class="e" x="-5" y="0" width="32.37" height="16" rx="4" ry="4"/><text class="k" y="13">&gt;</text><path d="M14.17,6.6 h5.2 l-2.6,3.6 z" fill="#0f82c0"/></g><g transform="translate(17,6)"><path d="m 0,0 H 78.69 v 25 H 0 V 20 c 0,-10 -8,8 -8,-7.5 s 8,2.5 8,-7.5 z " fill="#cc8000" transform="translate(1,1)"/><path d="m 0,0 H 78.69 v 25 H 0 V 20 c 0,-10 -8,8 -8,-7.5 s 8,2.5 8,-7.5 z " fill="#ffa000"/><path d="m 0.5,0.5 H 78.19 M 78.19,0.5 M 0.5,24.5 V 18.5 m -7.36,-0.5 q -1.52,-5.5 0,-11 m 7.36,1 V 0.5 H 1 " fill="none" stroke="#ffbc4c" stroke-width="1" stroke-linecap="round"/><g transform="translate(10,5)"><rect class="e" x="-5" y="0" width="68.69" height="16" rx="4" ry="4"/><text class="k" y="13">Tốc độ</text><path d="M49.09,6.6 h5.2 l-2.6,3.6 z" fill="#ffa000"/></g></g><g transform="translate(146.06,6)"><path d="m 0,0 H 35.71 v 25 H 0 V 20 c 0,-10 -8,8 -8,-7.5 s 8,2.5 8,-7.5 z " fill="#2d4393" transform="translate(1,1)"/><path d="m 0,0 H 35.71 v 25 H 0 V 20 c 0,-10 -8,8 -8,-7.5 s 8,2.5 8,-7.5 z " fill="#3854b8"/><path d="m 0.5,0.5 H 35.21 M 35.21,0.5 M 0.5,24.5 V 18.5 m -7.36,-0.5 q -1.52,-5.5 0,-11 m 7.36,1 V 0.5 H 1 " fill="none" stroke="#7487cd" stroke-width="1" stroke-linecap="round"/><g transform="translate(10,5)"><rect class="e" x="-5" y="0" width="25.71" height="16" rx="4" ry="4"/><text class="k" y="13">15</text></g></g></g><g transform="translate(86.95,37)"><path d="m 0,8 A 8,8 0 0,1 8,0 H 15 l 6,4 3,0 6,-4 H 40 H 282 v 34 H 29.5 l -6,4 -3,0 -6,-4 H 0 z M 272,5 h -38 v 5 c 0,10 -8,-8 -8,7.5 s 8,-2.5 8,7.5 v 6 h 38 z" fill="#4e2273" transform="translate(1,1)"/><path d="m 0,8 A 8,8 0 0,1 8,0 H 15 l 6,4 3,0 6,-4 H 40 H 282 v 34 H 29.5 l -6,4 -3,0 -6,-4 H 0 z M 272,5 h -38 v 5 c 0,10 -8,-8 -8,7.5 s 8,-2.5 8,7.5 v 6 h 38 z" fill="#612b90"/><path d="m 0.5,7.5 A 7.5,7.5 0 0,1 8,0.5 H 15 l 6,4 3,0 6,-4 H 39.5 M 39.5,0.5 H 281.5 M 0.5,33.5 V 8 M 272.5,5.5 v 26 h -38 M 228.9,24.3 l 3.68,-2.1" fill="none" stroke="#906bb1" stroke-width="1" stroke-linecap="round"/><g transform="translate(10,10)"><text class="w" y="13">đổi màu tất cả các led thành màu</text></g><g transform="translate(235,6)"><path d="m 0,0 H 36 v 24 H 0 V 20 c 0,-10 -8,8 -8,-7.5 s 8,2.5 8,-7.5 z " fill="#f0cdc2" transform="translate(1,1)"/><path d="m 0,0 H 36 v 24 H 0 V 20 c 0,-10 -8,8 -8,-7.5 s 8,2.5 8,-7.5 z " fill="#f0cdc2"/><g transform="translate(10,5)"><rect x="-5" y="0" width="26" height="16" rx="4" ry="4" fill="#ff0000"/></g></g><g transform="translate(0,35)"><path d="m 0,0 H 15 l 6,4 3,0 6,-4 H 137.73 v 25 H 29.5 l -6,4 -3,0 -6,-4 H 0 z " fill="#5a3396" transform="translate(1,1)"/><path d="m 0,0 H 15 l 6,4 3,0 6,-4 H 137.73 v 25 H 29.5 l -6,4 -3,0 -6,-4 H 0 z " fill="#7040bc"/><path d="m 0.5,0.5 H 15 l 6,4 3,0 6,-4 H 137.23 M 137.23,0.5 M 0.5,24.5 V 0.5 " fill="none" stroke="#9b79d0" stroke-width="1" stroke-linecap="round"/><g transform="translate(10,5)"><text class="w" y="13">xóa màn hình LCD</text></g><g transform="translate(0,26)"><path d="m 0,0 H 15 l 6,4 3,0 6,-4 H 40 H 400.59 v 36 H 29.5 l -6,4 -3,0 -6,-4 H 0 z M 250.03,5 h -164.39 v 5 c 0,10 -8,-8 -8,7.5 s 8,-2.5 8,7.5 v 7 h 164.39 z M 329.98,5 h -29.85 v 5 c 0,10 -8,-8 -8,7.5 s 8,-2.5 8,7.5 v 7 h 29.85 z M 390.59,5 h -29.85 v 5 c 0,10 -8,-8 -8,7.5 s 8,-2.5 8,7.5 v 7 h 29.85 z" fill="#5a3396" transform="translate(1,1)"/><path d="m 0,0 H 15 l 6,4 3,0 6,-4 H 40 H 400.59 v 36 H 29.5 l -6,4 -3,0 -6,-4 H 0 z M 250.03,5 h -164.39 v 5 c 0,10 -8,-8 -8,7.5 s 8,-2.5 8,7.5 v 7 h 164.39 z M 329.98,5 h -29.85 v 5 c 0,10 -8,-8 -8,7.5 s 8,-2.5 8,7.5 v 7 h 29.85 z M 390.59,5 h -29.85 v 5 c 0,10 -8,-8 -8,7.5 s 8,-2.5 8,7.5 v 7 h 29.85 z" fill="#7040bc"/><path d="m 0.5,0.5 H 15 l 6,4 3,0 6,-4 H 39.5 M 39.5,0.5 H 400.09 M 0.5,35.5 V 0.5 M 250.53,5.5 v 27 h -164.39 M 80.54,24.3 l 3.68,-2.1 M 330.48,5.5 v 27 h -29.85 M 295.03,24.3 l 3.68,-2.1 M 391.09,5.5 v 27 h -29.85 M 355.64,24.3 l 3.68,-2.1" fill="none" stroke="#9b79d0" stroke-width="1" stroke-linecap="round"/><g transform="translate(10,10)"><text class="w" y="13">in ra LCD</text></g><g transform="translate(260.03,10)"><text class="w" y="13">tại x</text></g><g transform="translate(339.98,10)"><text class="w" y="13">y</text></g><g transform="translate(86.64,6)"><path d="m 0,0 H 162.39 v 25 H 0 V 20 c 0,-10 -8,8 -8,-7.5 s 8,2.5 8,-7.5 z " fill="#009678" transform="translate(1,1)"/><path d="m 0,0 H 162.39 v 25 H 0 V 20 c 0,-10 -8,8 -8,-7.5 s 8,2.5 8,-7.5 z " fill="#00bc96"/><path d="m 0.5,0.5 H 161.89 M 161.89,0.5 M 0.5,24.5 V 18.5 m -7.36,-0.5 q -1.52,-5.5 0,-11 m 7.36,1 V 0.5 H 1 " fill="none" stroke="#4cd0b6" stroke-width="1" stroke-linecap="round"/><g transform="translate(10,5)"><text x="-1.3" y="19.2" style="font-family:'Liberation Serif',serif;font-weight:bold;font-size:28px" fill="#fff">“</text></g><g transform="translate(32,5)"><rect class="e" x="-5" y="0" width="108.39" height="16" rx="4" ry="4"/><text class="k" y="13">Vuot qua toc do</text></g><g transform="translate(140.39,5)"><text x="-1.3" y="19.2" style="font-family:'Liberation Serif',serif;font-weight:bold;font-size:28px" fill="#fff">”</text></g></g><g transform="translate(301.13,6)"><path d="m 0,0 H 27.85 v 25 H 0 V 20 c 0,-10 -8,8 -8,-7.5 s 8,2.5 8,-7.5 z " fill="#afbbe3" transform="translate(1,1)"/><path d="m 0,0 H 27.85 v 25 H 0 V 20 c 0,-10 -8,8 -8,-7.5 s 8,2.5 8,-7.5 z " fill="#afbbe3"/><g transform="translate(10,5)"><rect class="e" x="-5" y="0" width="17.85" height="16" rx="4" ry="4"/><text class="k" y="13">0</text></g></g><g transform="translate(361.74,6)"><path d="m 0,0 H 27.85 v 25 H 0 V 20 c 0,-10 -8,8 -8,-7.5 s 8,2.5 8,-7.5 z " fill="#afbbe3" transform="translate(1,1)"/><path d="m 0,0 H 27.85 v 25 H 0 V 20 c 0,-10 -8,8 -8,-7.5 s 8,2.5 8,-7.5 z " fill="#afbbe3"/><g transform="translate(10,5)"><rect class="e" x="-5" y="0" width="17.85" height="16" rx="4" ry="4"/><text class="k" y="13">0</text></g></g><g transform="translate(0,37)"><path d="m 0,0 H 15 l 6,4 3,0 6,-4 H 40 H 496.36 v 62 H 29.5 l -6,4 -3,0 -6,-4 H 0 z M 337.94,5 h -252.3 v 5 c 0,10 -8,-8 -8,7.5 s 8,-2.5 8,7.5 v 33 h 252.3 z M 417.89,5 h -29.85 v 5 c 0,10 -8,-8 -8,7.5 s 8,-2.5 8,7.5 v 7 h 29.85 z M 486.36,5 h -37.71 v 5 c 0,10 -8,-8 -8,7.5 s 8,-2.5 8,7.5 v 7 h 37.71 z" fill="#5a3396" transform="translate(1,1)"/><path d="m 0,0 H 15 l 6,4 3,0 6,-4 H 40 H 496.36 v 62 H 29.5 l -6,4 -3,0 -6,-4 H 0 z M 337.94,5 h -252.3 v 5 c 0,10 -8,-8 -8,7.5 s 8,-2.5 8,7.5 v 33 h 252.3 z M 417.89,5 h -29.85 v 5 c 0,10 -8,-8 -8,7.5 s 8,-2.5 8,7.5 v 7 h 29.85 z M 486.36,5 h -37.71 v 5 c 0,10 -8,-8 -8,7.5 s 8,-2.5 8,7.5 v 7 h 37.71 z" fill="#7040bc"/><path d="m 0.5,0.5 H 15 l 6,4 3,0 6,-4 H 39.5 M 39.5,0.5 H 495.86 M 0.5,61.5 V 0.5 M 338.44,5.5 v 53 h -252.3 M 80.54,24.3 l 3.68,-2.1 M 418.39,5.5 v 27 h -29.85 M 382.94,24.3 l 3.68,-2.1 M 486.86,5.5 v 27 h -37.71 M 443.55,24.3 l 3.68,-2.1" fill="none" stroke="#9b79d0" stroke-width="1" stroke-linecap="round"/><g transform="translate(10,10)"><text class="w" y="13">in ra LCD</text></g><g transform="translate(347.94,10)"><text class="w" y="13">tại x</text></g><g transform="translate(427.89,10)"><text class="w" y="13">y</text></g><g transform="translate(86.64,6)"><path d="m 0,0 H 143.7 v 5 c 0,10 -8,-8 -8,7.5 s 8,-2.5 8,7.5 v 6 v 5 c 0,10 -8,-8 -8,7.5 s 8,-2.5 8,7.5 v 5 H 0 V 20 c 0,-10 -8,8 -8,-7.5 s 8,2.5 8,-7.5 z " fill="#009678" transform="translate(1,1)"/><path d="m 0,0 H 143.7 v 5 c 0,10 -8,-8 -8,7.5 s 8,-2.5 8,7.5 v 6 v 5 c 0,10 -8,-8 -8,7.5 s 8,-2.5 8,7.5 v 5 H 0 V 20 c 0,-10 -8,8 -8,-7.5 s 8,2.5 8,-7.5 z " fill="#00bc96"/><path d="m 0.5,0.5 H 143.2 M 143.2,0.5 M 138.7,19.3 l 3.68,-2.1 M 143.2,26.5 M 138.7,45.3 l 3.68,-2.1 M 0.5,50.5 V 18.5 m -7.36,-0.5 q -1.52,-5.5 0,-11 m 7.36,1 V 0.5 H 1 " fill="none" stroke="#4cd0b6" stroke-width="1" stroke-linecap="round"/><g transform="translate(9.2,3.8)" opacity="0.6"><rect x="0.5" y="0.5" width="16" height="16" rx="4" ry="4" fill="#00f" stroke="#fff" stroke-width="1"/><path fill="#fff" d="m4.203,7.296 0,1.368 -0.92,0.677 -0.11,0.41 0.9,1.559 0.41,0.11 1.043,-0.457 1.187,0.683 0.127,1.134 0.3,0.3 1.8,0 0.3,-0.299 0.127,-1.138 1.185,-0.682 1.046,0.458 0.409,-0.11 0.9,-1.559 -0.11,-0.41 -0.92,-0.677 0,-1.366 0.92,-0.677 0.11,-0.41 -0.9,-1.559 -0.409,-0.109 -1.046,0.458 -1.185,-0.682 -0.127,-1.138 -0.3,-0.299 -1.8,0 -0.3,0.3 -0.126,1.135 -1.187,0.682 -1.043,-0.457 -0.41,0.11 -0.899,1.559 0.108,0.409z" transform="translate(0.5,0.5)"/><circle cx="8.5" cy="8.5" r="2.7" fill="#00f"/></g><g transform="translate(37,5)"><text class="w" y="13">tạo văn bản từ</text></g><g transform="translate(144.7,0)"><path d="m 0,0 H 105.6 v 25 H 0 V 20 c 0,-10 -8,8 -8,-7.5 s 8,2.5 8,-7.5 z " fill="#009678" transform="translate(1,1)"/><path d="m 0,0 H 105.6 v 25 H 0 V 20 c 0,-10 -8,8 -8,-7.5 s 8,2.5 8,-7.5 z " fill="#00bc96"/><path d="m 0.5,0.5 H 105.1 M 105.1,0.5 M 0.5,24.5 V 18.5 m -7.36,-0.5 q -1.52,-5.5 0,-11 m 7.36,1 V 0.5 H 1 " fill="none" stroke="#4cd0b6" stroke-width="1" stroke-linecap="round"/><g transform="translate(10,5)"><text x="-1.3" y="19.2" style="font-family:'Liberation Serif',serif;font-weight:bold;font-size:28px" fill="#fff">“</text></g><g transform="translate(32,5)"><rect class="e" x="-5" y="0" width="51.6" height="16" rx="4" ry="4"/><text class="k" y="13">Toc đo</text></g><g transform="translate(83.6,5)"><text x="-1.3" y="19.2" style="font-family:'Liberation Serif',serif;font-weight:bold;font-size:28px" fill="#fff">”</text></g></g><g transform="translate(144.7,26)"><path d="m 0,0 H 78.69 v 25 H 0 V 20 c 0,-10 -8,8 -8,-7.5 s 8,2.5 8,-7.5 z " fill="#cc8000" transform="translate(1,1)"/><path d="m 0,0 H 78.69 v 25 H 0 V 20 c 0,-10 -8,8 -8,-7.5 s 8,2.5 8,-7.5 z " fill="#ffa000"/><path d="m 0.5,0.5 H 78.19 M 78.19,0.5 M 0.5,24.5 V 18.5 m -7.36,-0.5 q -1.52,-5.5 0,-11 m 7.36,1 V 0.5 H 1 " fill="none" stroke="#ffbc4c" stroke-width="1" stroke-linecap="round"/><g transform="translate(10,5)"><rect class="e" x="-5" y="0" width="68.69" height="16" rx="4" ry="4"/><text class="k" y="13">Tốc độ</text><path d="M49.09,6.6 h5.2 l-2.6,3.6 z" fill="#ffa000"/></g></g></g><g transform="translate(389.04,6)"><path d="m 0,0 H 27.85 v 25 H 0 V 20 c 0,-10 -8,8 -8,-7.5 s 8,2.5 8,-7.5 z " fill="#afbbe3" transform="translate(1,1)"/><path d="m 0,0 H 27.85 v 25 H 0 V 20 c 0,-10 -8,8 -8,-7.5 s 8,2.5 8,-7.5 z " fill="#afbbe3"/><g transform="translate(10,5)"><rect class="e" x="-5" y="0" width="17.85" height="16" rx="4" ry="4"/><text class="k" y="13">0</text></g></g><g transform="translate(449.65,6)"><path d="m 0,0 H 35.71 v 25 H 0 V 20 c 0,-10 -8,8 -8,-7.5 s 8,2.5 8,-7.5 z " fill="#afbbe3" transform="translate(1,1)"/><path d="m 0,0 H 35.71 v 25 H 0 V 20 c 0,-10 -8,8 -8,-7.5 s 8,2.5 8,-7.5 z " fill="#afbbe3"/><g transform="translate(10,5)"><rect class="e" x="-5" y="0" width="25.71" height="16" rx="4" ry="4"/><text class="k" y="13">15</text></g></g><g transform="translate(0,63)"><path d="m 0,0 H 15 l 6,4 3,0 6,-4 H 108.91 H 131.59 v 36 H 108.91 l -6,4 -3,0 -6,-4 h -7 a 8,8 0 0,0 -8,8 v 62 a 8,8 0 0,0 8,8 H 108.91 v 10 H 29.5 l -6,4 -3,0 -6,-4 H 8 a 8,8 0 0,1 -8,-8 z M 92.75,5 h -29.85 v 5 c 0,10 -8,-8 -8,7.5 s 8,-2.5 8,7.5 v 7 h 29.85 z" fill="#00973f" transform="translate(1,1)"/><path d="m 0,0 H 15 l 6,4 3,0 6,-4 H 108.91 H 131.59 v 36 H 108.91 l -6,4 -3,0 -6,-4 h -7 a 8,8 0 0,0 -8,8 v 62 a 8,8 0 0,0 8,8 H 108.91 v 10 H 29.5 l -6,4 -3,0 -6,-4 H 8 a 8,8 0 0,1 -8,-8 z M 92.75,5 h -29.85 v 5 c 0,10 -8,-8 -8,7.5 s 8,-2.5 8,7.5 v 7 h 29.85 z" fill="#00bd4f"/><path d="m 0.5,0.5 H 15 l 6,4 3,0 6,-4 H 108.41 M 108.41,0.5 H 131.09 M 108.41,36.5 M 80.9,112.01 a 8.5,8.5 0 0,0 6.01,2.49 H 108.41 M 2.7,121.3 A 7.5,7.5 0 0,1 0.5,116 V 0.5 M 93.25,5.5 v 27 h -29.85 M 57.79,24.3 l 3.68,-2.1" fill="none" stroke="#4cd184" stroke-width="1" stroke-linecap="round"/><g transform="translate(10,10)"><text class="w" y="13">lặp lại</text></g><g transform="translate(102.75,10)"><text class="w" y="13">lần</text></g><g transform="translate(10,41)"><text class="w" y="13">thực hiện</text></g><g transform="translate(63.89,6)"><path d="m 0,0 H 27.85 v 25 H 0 V 20 c 0,-10 -8,8 -8,-7.5 s 8,2.5 8,-7.5 z " fill="#afbbe3" transform="translate(1,1)"/><path d="m 0,0 H 27.85 v 25 H 0 V 20 c 0,-10 -8,8 -8,-7.5 s 8,2.5 8,-7.5 z " fill="#afbbe3"/><g transform="translate(10,5)"><rect class="e" x="-5" y="0" width="17.85" height="16" rx="4" ry="4"/><text class="k" y="13">3</text></g></g><g transform="translate(79.91,37)"><path d="m 0,8 A 8,8 0 0,1 8,0 H 15 l 6,4 3,0 6,-4 H 40 H 295.3 v 36 H 29.5 l -6,4 -3,0 -6,-4 H 0 z M 178.85,5 h -39.27 v 5 c 0,10 -8,-8 -8,7.5 s 8,-2.5 8,7.5 v 7 h 39.27 z" fill="#cc0800" transform="translate(1,1)"/><path d="m 0,8 A 8,8 0 0,1 8,0 H 15 l 6,4 3,0 6,-4 H 40 H 295.3 v 36 H 29.5 l -6,4 -3,0 -6,-4 H 0 z M 178.85,5 h -39.27 v 5 c 0,10 -8,-8 -8,7.5 s 8,-2.5 8,7.5 v 7 h 39.27 z" fill="#ff0a00"/><path d="m 0.5,7.5 A 7.5,7.5 0 0,1 8,0.5 H 15 l 6,4 3,0 6,-4 H 39.5 M 39.5,0.5 H 294.8 M 0.5,35.5 V 8 M 179.35,5.5 v 27 h -39.27 M 134.48,24.3 l 3.68,-2.1" fill="none" stroke="#ff544c" stroke-width="1" stroke-linecap="round"/><g transform="translate(10,10)"><g transform="translate(0,0) scale(1)"><g fill="#000"><ellipse cx="3.6" cy="16.3" rx="3.6" ry="2.7" transform="rotate(-18 3.6 16.3)"/><ellipse cx="16" cy="14.5" rx="3.6" ry="2.7" transform="rotate(-18 16 14.5)"/><path d="M5.6,16 V2.4 L19.4,0.4 V14.4 H17.9 V4.4 L7.1,6 V16 z"/></g></g></g><g transform="translate(38,10)"><text class="w" y="13">phát nốt nhạc</text></g><g transform="translate(188.85,10)"><text class="w" y="13">với độ dài</text></g><g transform="translate(260.7,10)"><rect class="e" x="-5" y="-5.3" width="34.6" height="28" rx="4" ry="4"/><g fill="#000" transform="translate(-0.5,1.8)"><ellipse cx="3.1" cy="14.1" rx="3.2" ry="2.3" transform="rotate(-20 3.1 14.1)"/><rect x="5.2" y="0" width="1.2" height="14"/></g><path d="M16.4,6.9 h5.2 l-2.6,3.6 z" fill="#ff0a00"/></g><g transform="translate(140.58,6)"><path d="m 0,0 H 37.27 v 25 H 0 V 20 c 0,-10 -8,8 -8,-7.5 s 8,2.5 8,-7.5 z " fill="#ff9d99" transform="translate(1,1)"/><path d="m 0,0 H 37.27 v 25 H 0 V 20 c 0,-10 -8,8 -8,-7.5 s 8,2.5 8,-7.5 z " fill="#ff9d99"/><g transform="translate(10,5)"><rect class="e" x="-5" y="0" width="27.27" height="16" rx="4" ry="4"/><text class="k" y="13">A5</text></g></g><g transform="translate(0,37)"><path d="m 0,0 H 15 l 6,4 3,0 6,-4 H 40 H 295.3 v 36 H 29.5 l -6,4 -3,0 -6,-4 H 8 a 8,8 0 0,1 -8,-8 z M 178.85,5 h -39.27 v 5 c 0,10 -8,-8 -8,7.5 s 8,-2.5 8,7.5 v 7 h 39.27 z" fill="#cc0800" transform="translate(1,1)"/><path d="m 0,0 H 15 l 6,4 3,0 6,-4 H 40 H 295.3 v 36 H 29.5 l -6,4 -3,0 -6,-4 H 8 a 8,8 0 0,1 -8,-8 z M 178.85,5 h -39.27 v 5 c 0,10 -8,-8 -8,7.5 s 8,-2.5 8,7.5 v 7 h 39.27 z" fill="#ff0a00"/><path d="m 0.5,0.5 H 15 l 6,4 3,0 6,-4 H 39.5 M 39.5,0.5 H 294.8 M 2.7,33.3 A 7.5,7.5 0 0,1 0.5,28 V 0.5 M 179.35,5.5 v 27 h -39.27 M 134.48,24.3 l 3.68,-2.1" fill="none" stroke="#ff544c" stroke-width="1" stroke-linecap="round"/><g transform="translate(10,10)"><g transform="translate(0,0) scale(1)"><g fill="#000"><ellipse cx="3.6" cy="16.3" rx="3.6" ry="2.7" transform="rotate(-18 3.6 16.3)"/><ellipse cx="16" cy="14.5" rx="3.6" ry="2.7" transform="rotate(-18 16 14.5)"/><path d="M5.6,16 V2.4 L19.4,0.4 V14.4 H17.9 V4.4 L7.1,6 V16 z"/></g></g></g><g transform="translate(38,10)"><text class="w" y="13">phát nốt nhạc</text></g><g transform="translate(188.85,10)"><text class="w" y="13">với độ dài</text></g><g transform="translate(260.7,10)"><rect class="e" x="-5" y="-5.3" width="34.6" height="28" rx="4" ry="4"/><g fill="#000" transform="translate(-0.5,1.8)"><ellipse cx="3.1" cy="14.1" rx="3.2" ry="2.3" transform="rotate(-20 3.1 14.1)"/><rect x="5.2" y="0" width="1.2" height="14"/></g><path d="M16.4,6.9 h5.2 l-2.6,3.6 z" fill="#ff0a00"/></g><g transform="translate(140.58,6)"><path d="m 0,0 H 37.27 v 25 H 0 V 20 c 0,-10 -8,8 -8,-7.5 s 8,2.5 8,-7.5 z " fill="#ff9d99" transform="translate(1,1)"/><path d="m 0,0 H 37.27 v 25 H 0 V 20 c 0,-10 -8,8 -8,-7.5 s 8,2.5 8,-7.5 z " fill="#ff9d99"/><g transform="translate(10,5)"><rect class="e" x="-5" y="0" width="27.27" height="16" rx="4" ry="4"/><text class="k" y="13">E3</text></g></g></g></g></g></g></g></g></g><g transform="translate(86.95,335.9)"><path d="m 0,8 A 8,8 0 0,1 8,0 H 15 l 6,4 3,0 6,-4 H 40 H 282 v 34 H 29.5 l -6,4 -3,0 -6,-4 H 0 z M 272,5 h -38 v 5 c 0,10 -8,-8 -8,7.5 s 8,-2.5 8,7.5 v 6 h 38 z" fill="#4e2273" transform="translate(1,1)"/><path d="m 0,8 A 8,8 0 0,1 8,0 H 15 l 6,4 3,0 6,-4 H 40 H 282 v 34 H 29.5 l -6,4 -3,0 -6,-4 H 0 z M 272,5 h -38 v 5 c 0,10 -8,-8 -8,7.5 s 8,-2.5 8,7.5 v 6 h 38 z" fill="#612b90"/><path d="m 0.5,7.5 A 7.5,7.5 0 0,1 8,0.5 H 15 l 6,4 3,0 6,-4 H 39.5 M 39.5,0.5 H 281.5 M 0.5,33.5 V 8 M 272.5,5.5 v 26 h -38 M 228.9,24.3 l 3.68,-2.1" fill="none" stroke="#906bb1" stroke-width="1" stroke-linecap="round"/><g transform="translate(10,10)"><text class="w" y="13">đổi màu tất cả các led thành màu</text></g><g transform="translate(235,6)"><path d="m 0,0 H 36 v 24 H 0 V 20 c 0,-10 -8,8 -8,-7.5 s 8,2.5 8,-7.5 z " fill="#f0cdc2" transform="translate(1,1)"/><path d="m 0,0 H 36 v 24 H 0 V 20 c 0,-10 -8,8 -8,-7.5 s 8,2.5 8,-7.5 z " fill="#f0cdc2"/><g transform="translate(10,5)"><rect x="-5" y="0" width="26" height="16" rx="4" ry="4" fill="#00ff33"/></g></g><g transform="translate(0,35)"><path d="m 0,0 H 15 l 6,4 3,0 6,-4 H 137.73 v 25 H 29.5 l -6,4 -3,0 -6,-4 H 0 z " fill="#5a3396" transform="translate(1,1)"/><path d="m 0,0 H 15 l 6,4 3,0 6,-4 H 137.73 v 25 H 29.5 l -6,4 -3,0 -6,-4 H 0 z " fill="#7040bc"/><path d="m 0.5,0.5 H 15 l 6,4 3,0 6,-4 H 137.23 M 137.23,0.5 M 0.5,24.5 V 0.5 " fill="none" stroke="#9b79d0" stroke-width="1" stroke-linecap="round"/><g transform="translate(10,5)"><text class="w" y="13">xóa màn hình LCD</text></g><g transform="translate(0,26)"><path d="m 0,0 H 15 l 6,4 3,0 6,-4 H 40 H 488.5 v 62 H 29.5 l -6,4 -3,0 -6,-4 H 8 a 8,8 0 0,1 -8,-8 z M 337.94,5 h -252.3 v 5 c 0,10 -8,-8 -8,7.5 s 8,-2.5 8,7.5 v 33 h 252.3 z M 417.89,5 h -29.85 v 5 c 0,10 -8,-8 -8,7.5 s 8,-2.5 8,7.5 v 7 h 29.85 z M 478.5,5 h -29.85 v 5 c 0,10 -8,-8 -8,7.5 s 8,-2.5 8,7.5 v 7 h 29.85 z" fill="#5a3396" transform="translate(1,1)"/><path d="m 0,0 H 15 l 6,4 3,0 6,-4 H 40 H 488.5 v 62 H 29.5 l -6,4 -3,0 -6,-4 H 8 a 8,8 0 0,1 -8,-8 z M 337.94,5 h -252.3 v 5 c 0,10 -8,-8 -8,7.5 s 8,-2.5 8,7.5 v 33 h 252.3 z M 417.89,5 h -29.85 v 5 c 0,10 -8,-8 -8,7.5 s 8,-2.5 8,7.5 v 7 h 29.85 z M 478.5,5 h -29.85 v 5 c 0,10 -8,-8 -8,7.5 s 8,-2.5 8,7.5 v 7 h 29.85 z" fill="#7040bc"/><path d="m 0.5,0.5 H 15 l 6,4 3,0 6,-4 H 39.5 M 39.5,0.5 H 488 M 2.7,59.3 A 7.5,7.5 0 0,1 0.5,54 V 0.5 M 338.44,5.5 v 53 h -252.3 M 80.54,24.3 l 3.68,-2.1 M 418.39,5.5 v 27 h -29.85 M 382.94,24.3 l 3.68,-2.1 M 479,5.5 v 27 h -29.85 M 443.55,24.3 l 3.68,-2.1" fill="none" stroke="#9b79d0" stroke-width="1" stroke-linecap="round"/><g transform="translate(10,10)"><text class="w" y="13">in ra LCD</text></g><g transform="translate(347.94,10)"><text class="w" y="13">tại x</text></g><g transform="translate(427.89,10)"><text class="w" y="13">y</text></g><g transform="translate(86.64,6)"><path d="m 0,0 H 143.7 v 5 c 0,10 -8,-8 -8,7.5 s 8,-2.5 8,7.5 v 6 v 5 c 0,10 -8,-8 -8,7.5 s 8,-2.5 8,7.5 v 5 H 0 V 20 c 0,-10 -8,8 -8,-7.5 s 8,2.5 8,-7.5 z " fill="#009678" transform="translate(1,1)"/><path d="m 0,0 H 143.7 v 5 c 0,10 -8,-8 -8,7.5 s 8,-2.5 8,7.5 v 6 v 5 c 0,10 -8,-8 -8,7.5 s 8,-2.5 8,7.5 v 5 H 0 V 20 c 0,-10 -8,8 -8,-7.5 s 8,2.5 8,-7.5 z " fill="#00bc96"/><path d="m 0.5,0.5 H 143.2 M 143.2,0.5 M 138.7,19.3 l 3.68,-2.1 M 143.2,26.5 M 138.7,45.3 l 3.68,-2.1 M 0.5,50.5 V 18.5 m -7.36,-0.5 q -1.52,-5.5 0,-11 m 7.36,1 V 0.5 H 1 " fill="none" stroke="#4cd0b6" stroke-width="1" stroke-linecap="round"/><g transform="translate(9.2,3.8)" opacity="0.6"><rect x="0.5" y="0.5" width="16" height="16" rx="4" ry="4" fill="#00f" stroke="#fff" stroke-width="1"/><path fill="#fff" d="m4.203,7.296 0,1.368 -0.92,0.677 -0.11,0.41 0.9,1.559 0.41,0.11 1.043,-0.457 1.187,0.683 0.127,1.134 0.3,0.3 1.8,0 0.3,-0.299 0.127,-1.138 1.185,-0.682 1.046,0.458 0.409,-0.11 0.9,-1.559 -0.11,-0.41 -0.92,-0.677 0,-1.366 0.92,-0.677 0.11,-0.41 -0.9,-1.559 -0.409,-0.109 -1.046,0.458 -1.185,-0.682 -0.127,-1.138 -0.3,-0.299 -1.8,0 -0.3,0.3 -0.126,1.135 -1.187,0.682 -1.043,-0.457 -0.41,0.11 -0.899,1.559 0.108,0.409z" transform="translate(0.5,0.5)"/><circle cx="8.5" cy="8.5" r="2.7" fill="#00f"/></g><g transform="translate(37,5)"><text class="w" y="13">tạo văn bản từ</text></g><g transform="translate(144.7,0)"><path d="m 0,0 H 105.6 v 25 H 0 V 20 c 0,-10 -8,8 -8,-7.5 s 8,2.5 8,-7.5 z " fill="#009678" transform="translate(1,1)"/><path d="m 0,0 H 105.6 v 25 H 0 V 20 c 0,-10 -8,8 -8,-7.5 s 8,2.5 8,-7.5 z " fill="#00bc96"/><path d="m 0.5,0.5 H 105.1 M 105.1,0.5 M 0.5,24.5 V 18.5 m -7.36,-0.5 q -1.52,-5.5 0,-11 m 7.36,1 V 0.5 H 1 " fill="none" stroke="#4cd0b6" stroke-width="1" stroke-linecap="round"/><g transform="translate(10,5)"><text x="-1.3" y="19.2" style="font-family:'Liberation Serif',serif;font-weight:bold;font-size:28px" fill="#fff">“</text></g><g transform="translate(32,5)"><rect class="e" x="-5" y="0" width="51.6" height="16" rx="4" ry="4"/><text class="k" y="13">Toc đo</text></g><g transform="translate(83.6,5)"><text x="-1.3" y="19.2" style="font-family:'Liberation Serif',serif;font-weight:bold;font-size:28px" fill="#fff">”</text></g></g><g transform="translate(144.7,26)"><path d="m 0,0 H 78.69 v 25 H 0 V 20 c 0,-10 -8,8 -8,-7.5 s 8,2.5 8,-7.5 z " fill="#cc8000" transform="translate(1,1)"/><path d="m 0,0 H 78.69 v 25 H 0 V 20 c 0,-10 -8,8 -8,-7.5 s 8,2.5 8,-7.5 z " fill="#ffa000"/><path d="m 0.5,0.5 H 78.19 M 78.19,0.5 M 0.5,24.5 V 18.5 m -7.36,-0.5 q -1.52,-5.5 0,-11 m 7.36,1 V 0.5 H 1 " fill="none" stroke="#ffbc4c" stroke-width="1" stroke-linecap="round"/><g transform="translate(10,5)"><rect class="e" x="-5" y="0" width="68.69" height="16" rx="4" ry="4"/><text class="k" y="13">Tốc độ</text><path d="M49.09,6.6 h5.2 l-2.6,3.6 z" fill="#ffa000"/></g></g></g><g transform="translate(389.04,6)"><path d="m 0,0 H 27.85 v 25 H 0 V 20 c 0,-10 -8,8 -8,-7.5 s 8,2.5 8,-7.5 z " fill="#afbbe3" transform="translate(1,1)"/><path d="m 0,0 H 27.85 v 25 H 0 V 20 c 0,-10 -8,8 -8,-7.5 s 8,2.5 8,-7.5 z " fill="#afbbe3"/><g transform="translate(10,5)"><rect class="e" x="-5" y="0" width="17.85" height="16" rx="4" ry="4"/><text class="k" y="13">0</text></g></g><g transform="translate(449.65,6)"><path d="m 0,0 H 27.85 v 25 H 0 V 20 c 0,-10 -8,8 -8,-7.5 s 8,2.5 8,-7.5 z " fill="#afbbe3" transform="translate(1,1)"/><path d="m 0,0 H 27.85 v 25 H 0 V 20 c 0,-10 -8,8 -8,-7.5 s 8,2.5 8,-7.5 z " fill="#afbbe3"/><g transform="translate(10,5)"><rect class="e" x="-5" y="0" width="17.85" height="16" rx="4" ry="4"/><text class="k" y="13">0</text></g></g></g></g></g><g transform="translate(0,472.5)"><path d="m 0,0 H 15 l 6,4 3,0 6,-4 H 40 H 214.02 v 36 H 29.5 l -6,4 -3,0 -6,-4 H 8 a 8,8 0 0,1 -8,-8 z M 139.89,5 h -53.41 v 5 c 0,10 -8,-8 -8,7.5 s 8,-2.5 8,7.5 v 7 h 53.41 z" fill="#0074cc" transform="translate(1,1)"/><path d="m 0,0 H 15 l 6,4 3,0 6,-4 H 40 H 214.02 v 36 H 29.5 l -6,4 -3,0 -6,-4 H 8 a 8,8 0 0,1 -8,-8 z M 139.89,5 h -53.41 v 5 c 0,10 -8,-8 -8,7.5 s 8,-2.5 8,7.5 v 7 h 53.41 z" fill="#0091ff"/><path d="m 0.5,0.5 H 15 l 6,4 3,0 6,-4 H 39.5 M 39.5,0.5 H 213.52 M 2.7,33.3 A 7.5,7.5 0 0,1 0.5,28 V 0.5 M 140.39,5.5 v 27 h -53.41 M 81.37,24.3 l 3.68,-2.1" fill="none" stroke="#4cb2ff" stroke-width="1" stroke-linecap="round"/><g transform="translate(10,10)"><text class="w" y="13">tạm dừng</text></g><g transform="translate(149.89,10)"><text class="w" y="13">milli giây</text></g><g transform="translate(87.47,6)"><path d="m 0,0 H 51.41 v 25 H 0 V 20 c 0,-10 -8,8 -8,-7.5 s 8,2.5 8,-7.5 z " fill="#afbbe3" transform="translate(1,1)"/><path d="m 0,0 H 51.41 v 25 H 0 V 20 c 0,-10 -8,8 -8,-7.5 s 8,2.5 8,-7.5 z " fill="#afbbe3"/><g transform="translate(10,5)"><rect class="e" x="-5" y="0" width="41.41" height="16" rx="4" ry="4"/><text class="k" y="13">2000</text></g></g></g></g></g></g></g></g></g><g transform="translate(0,746.5)"><path d="m 0,0 H 15 l 6,4 3,0 6,-4 H 40 H 198.32 v 36 H 29.5 l -6,4 -3,0 -6,-4 H 8 a 8,8 0 0,1 -8,-8 z M 124.18,5 h -37.71 v 5 c 0,10 -8,-8 -8,7.5 s 8,-2.5 8,7.5 v 7 h 37.71 z" fill="#0074cc" transform="translate(1,1)"/><path d="m 0,0 H 15 l 6,4 3,0 6,-4 H 40 H 198.32 v 36 H 29.5 l -6,4 -3,0 -6,-4 H 8 a 8,8 0 0,1 -8,-8 z M 124.18,5 h -37.71 v 5 c 0,10 -8,-8 -8,7.5 s 8,-2.5 8,7.5 v 7 h 37.71 z" fill="#0091ff"/><path d="m 0.5,0.5 H 15 l 6,4 3,0 6,-4 H 39.5 M 39.5,0.5 H 197.82 M 2.7,33.3 A 7.5,7.5 0 0,1 0.5,28 V 0.5 M 124.68,5.5 v 27 h -37.71 M 81.37,24.3 l 3.68,-2.1" fill="none" stroke="#4cb2ff" stroke-width="1" stroke-linecap="round"/><g transform="translate(10,10)"><text class="w" y="13">tạm dừng</text></g><g transform="translate(134.18,10)"><text class="w" y="13">milli giây</text></g><g transform="translate(87.47,6)"><path d="m 0,0 H 35.71 v 25 H 0 V 20 c 0,-10 -8,8 -8,-7.5 s 8,2.5 8,-7.5 z " fill="#afbbe3" transform="translate(1,1)"/><path d="m 0,0 H 35.71 v 25 H 0 V 20 c 0,-10 -8,8 -8,-7.5 s 8,2.5 8,-7.5 z " fill="#afbbe3"/><g transform="translate(10,5)"><rect class="e" x="-5" y="0" width="25.71" height="16" rx="4" ry="4"/><text class="k" y="13">50</text></g></g></g></g></g><text class="w" x="129.12" y="19.13">.</text><text class="w" x="145.85" y="177.98">.</text></g></svg></body></html>
